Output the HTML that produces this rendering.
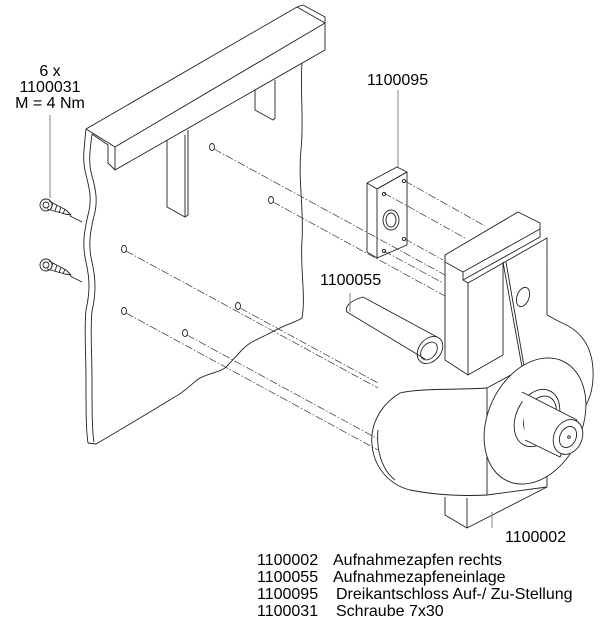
<!DOCTYPE html>
<html><head><meta charset="utf-8"><style>
html,body{margin:0;padding:0;background:#fff;}
svg{display:block;}
text{font-family:"Liberation Sans",Arial,sans-serif;fill:#000;}
</style></head><body>
<svg width="602" height="623" viewBox="0 0 602 623" xmlns="http://www.w3.org/2000/svg">
<g fill="none" stroke="#222" stroke-width="0.9" stroke-linejoin="round">
<path d="M86,129 C84,150 82,160 86,175 C90,190 92,200 88,215 C84,232 82,245 86,262 C90,280 90,292 86,310 C84,330 86,350 86,380 C86,410 86,430 88,443"/>
<path d="M92,134 C90,150 88,162 92,176 C96,190 98,202 94,216 C90,232 88,246 92,262 C96,280 96,294 92,311 C90,330 92,350 92,380 C92,410 92,430 94,442"/>
<path d="M88,443 L96,444 C120,430 150,412 173,398 C185,392 192,383 200,378 C212,372 222,372 227,366 C237,356 243,347 252,342 C262,337 272,332 280,328 C290,323 296,322 302,318"/>
<path d="M302,63 C300,90 304,120 301,150 C298,180 304,210 302,240 C300,270 306,295 302,318"/>
<path d="M86,129 L297,7 L325,23 L115,147 Z"/>
<path d="M325,23 L325,50 L115,170 L115,147"/>
<path d="M92,134 L108,145 L108,163 L115,170"/>
<path d="M297,7 L303,5 L325,17 L325,23"/>
<path d="M167,140 L167,207 L185,217 L188,215 L188,130"/>
<path d="M255,90 L255,110 L273,120 L275,118 L275,80"/>
<path d="M185,217 L185,135"/>
<ellipse cx="212" cy="147" rx="2.5" ry="3.5"/>
<ellipse cx="271" cy="200" rx="2.5" ry="3.5"/>
<ellipse cx="124" cy="249" rx="2.5" ry="3.5"/>
<ellipse cx="238" cy="306" rx="2.5" ry="3.5"/>
<ellipse cx="124" cy="311" rx="2.5" ry="3.5"/>
<ellipse cx="185" cy="333" rx="2.5" ry="3.5"/>
</g>
<g fill="none" stroke="#333" stroke-width="0.7" stroke-dasharray="8,2,1.5,2">
<line x1="214" y1="149" x2="445" y2="275"/>
<line x1="273" y1="202" x2="445" y2="296"/>
<line x1="126" y1="251" x2="378" y2="388"/>
<line x1="240" y1="308" x2="378" y2="383"/>
<line x1="126" y1="313" x2="378" y2="450"/>
<line x1="187" y1="335" x2="378" y2="439"/>
<line x1="405" y1="181" x2="485" y2="226"/>
<line x1="384" y1="193" x2="465" y2="238"/>
<line x1="405" y1="239" x2="443" y2="260"/>
<line x1="384" y1="251" x2="443" y2="283"/>
</g>
<g fill="none" stroke="#222" stroke-width="0.9" stroke-linejoin="round">
<line x1="70" y1="216" x2="82" y2="222"/>
<line x1="70" y1="276" x2="82" y2="282"/>
<circle cx="46" cy="205" r="6"/><circle cx="46" cy="205" r="3"/>
<path d="M49,201 L66,210 L71,215 L65,214 L47,209"/>
<path d="M53,203 l-2,6 M57,205 l-2,6 M61,207 l-2,6 M65,209 l-2,5"/>
<circle cx="46" cy="265" r="6"/><circle cx="46" cy="265" r="3"/>
<path d="M49,261 L66,270 L71,275 L65,274 L47,269"/>
<path d="M53,263 l-2,6 M57,265 l-2,6 M61,267 l-2,6 M65,269 l-2,5"/>
<line x1="50" y1="115" x2="50" y2="198" stroke="#777"/>
<path d="M367,183 L397,167 L407,172 L377,189 Z"/>
<path d="M377,189 L407,172 L407,245 L377,258 Z"/>
<path d="M367,183 L367,252 L377,258"/>
<circle cx="384" cy="194" r="1.6"/><circle cx="404" cy="181" r="1.6"/>
<circle cx="404" cy="239" r="1.6"/><circle cx="384" cy="251" r="1.6"/>
<ellipse cx="391" cy="220" rx="8" ry="10"/><ellipse cx="391" cy="220" rx="5" ry="7"/>
<line x1="398" y1="90" x2="398" y2="167" stroke="#777"/>
<path d="M363,297 C352,300 344,306 347,312 L425,359"/>
<path d="M363,297 L437,337"/>
<ellipse cx="430" cy="350" rx="11" ry="15" transform="rotate(40 430 350)"/>
<ellipse cx="429" cy="351" rx="7" ry="10" transform="rotate(40 429 351)"/>
<line x1="350" y1="312" x2="350" y2="293" stroke="#777"/>
<path d="M445,255 L518,212 L540,223 L540,237 L463,280 L463,272 L445,262 Z"/>
<path d="M463,272 L540,229"/>
<path d="M445,255 L445,360 L468,375 L468,283"/>
<path d="M463,280 L468,283 L547,238 L547,315"/>
<path d="M468,375 L503,355 L503,262"/>
<path d="M503,262 L522,367"/><path d="M506,262 L524,366"/>
<ellipse cx="523" cy="297" rx="6" ry="10" transform="rotate(20 523 297)"/>
<path d="M547,315 L560,322 C580,330 592,345 593,370 C594,390 588,405 580,413"/>
<path d="M520,370 L487,388 C460,390 420,388 400,393 C380,405 370,425 372,445 C374,468 390,485 410,490 C440,496 470,496 487,495 L547,487 L547,440"/>
<path d="M378,430 C376,450 382,470 395,480"/>
<path d="M487,388 L487,495"/>
<path d="M445,497 L445,515 L467,528 L547,487"/>
<path d="M467,498 L467,528"/>
<path d="M492,512 L492,528" stroke="#777"/>
<ellipse cx="535" cy="421" rx="47" ry="66" transform="rotate(25 535 421)" fill="#fff"/>
<ellipse cx="537" cy="418" rx="21" ry="30" transform="rotate(25 537 418)"/>
<ellipse cx="540" cy="417" rx="15" ry="22" transform="rotate(25 540 417)"/>
<path d="M522,392 L577,420 L560,457 L525,440" fill="#fff"/>
<ellipse cx="568" cy="437" rx="14" ry="18" transform="rotate(25 568 437)" fill="#fff"/>
<ellipse cx="568" cy="437" rx="8" ry="11" transform="rotate(25 568 437)"/>
<circle cx="569" cy="437" r="1.3"/>
</g>
<g font-size="16">
<text x="50" y="76" text-anchor="middle">6 x</text>
<text x="50" y="92" text-anchor="middle">1100031</text>
<text x="50" y="108" text-anchor="middle">M = 4 Nm</text>
<text x="367" y="85">1100095</text>
<text x="320" y="285">1100055</text>
<text x="505" y="542">1100002</text>
<text x="257" y="565">1100002</text><text x="333" y="565">Aufnahmezapfen rechts</text>
<text x="257" y="582">1100055</text><text x="333" y="582">Aufnahmezapfeneinlage</text>
<text x="257" y="599">1100095</text><text x="336" y="599">Dreikantschloss Auf-/ Zu-Stellung</text>
<text x="257" y="616">1100031</text><text x="336" y="616">Schraube 7x30</text>
</g>
</svg>
</body></html>
